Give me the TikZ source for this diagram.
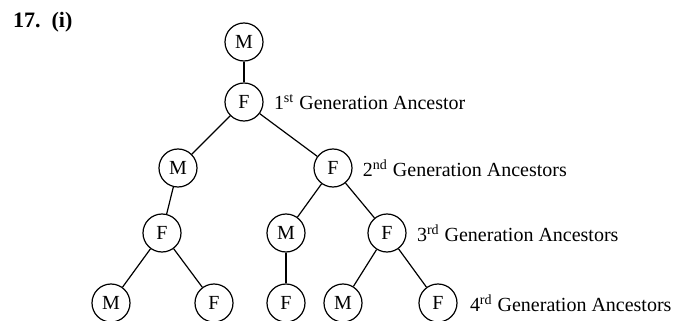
\documentclass[tikz,border=0pt]{standalone}
\usepackage{fontspec}
\setmainfont{Liberation Serif}
\usepackage{tikz}
\usetikzlibrary{positioning}

\begin{document}
\begin{tikzpicture}[
    x=0.5pt, y=-0.5pt,
    every node/.style={font=\fontsize{10}{12}\selectfont},
    person/.style={circle, draw, thick, line width=0.6pt, minimum size=19pt, inner sep=0pt},
    genlabel/.style={inner sep=0pt, anchor=west}
]
    \useasboundingbox (0,0) rectangle (682,321);
    \node[font=\fontsize{11}{13}\selectfont\bfseries, anchor=west] (title) at (6,22) {17.\ \ (i)};

    % generation 0 and 1
    \node[person] (m0) at (244,42) {M};
    \node[person] (f1) at (244,102) {F};
    % generation 2
    \node[person] (m2) at (178,168) {M};
    \node[person] (f2) at (333,168) {F};
    % generation 3
    \node[person] (f3a) at (162,233) {F};
    \node[person] (m3) at (286,233) {M};
    \node[person] (f3b) at (387,233) {F};
    % generation 4
    \node[person] (m4a) at (111,303) {M};
    \node[person] (f4a) at (214,303) {F};
    \node[person] (f4b) at (286,303) {F};
    \node[person] (m4b) at (343,303) {M};
    \node[person] (f4c) at (438,303) {F};

    \draw[line width=0.6pt] (m0) -- (f1);
    \draw[line width=0.6pt] (f1) -- (m2);
    \draw[line width=0.6pt] (f1) -- (f2);
    \draw[line width=0.6pt] (m2) -- (f3a);
    \draw[line width=0.6pt] (f3a) -- (m4a);
    \draw[line width=0.6pt] (f3a) -- (f4a);
    \draw[line width=0.6pt] (f2) -- (m3);
    \draw[line width=0.6pt] (f2) -- (f3b);
    \draw[line width=0.6pt] (m3) -- (f4b);
    \draw[line width=0.6pt] (f3b) -- (m4b);
    \draw[line width=0.6pt] (f3b) -- (f4c);

    % labels
    \node[genlabel, right=5pt of f1] (gen1) {1\textsuperscript{st} Generation Ancestor};
    \node[genlabel, right=5pt of f2] (gen2) {2\textsuperscript{nd} Generation Ancestors};
    \node[genlabel, right=5pt of f3b] (gen3) {3\textsuperscript{rd} Generation Ancestors};
    \node[genlabel, right=6pt of f4c] (gen4) {4\textsuperscript{rd} Generation Ancestors};
\end{tikzpicture}
\end{document}
